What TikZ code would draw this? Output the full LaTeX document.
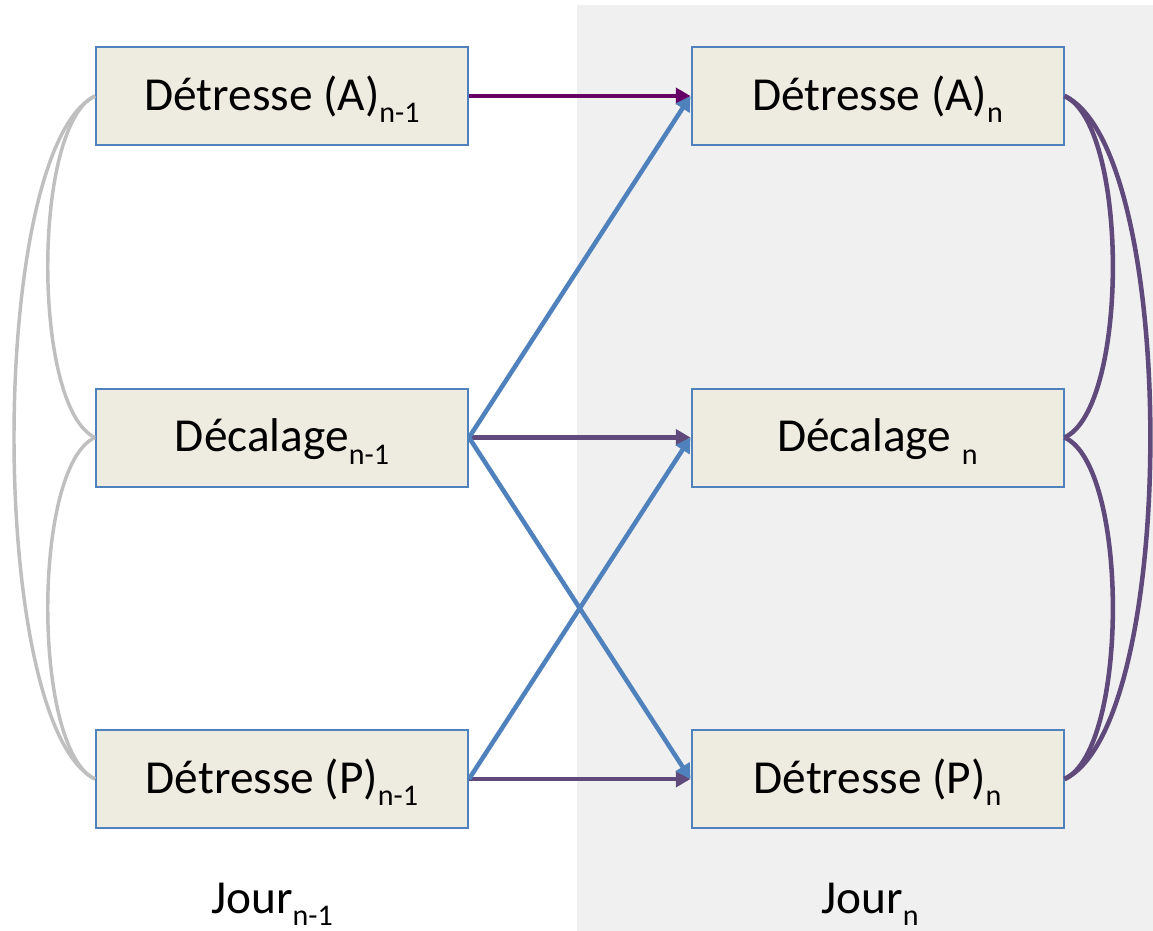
\documentclass[tikz,border=0pt]{standalone}
\usepackage{fontspec}
\setmainfont{Carlito}
\usetikzlibrary{arrows.meta}

\definecolor{boxfill}{RGB}{238,236,225}
\definecolor{boxline}{RGB}{79,129,189}
\definecolor{daybg}{RGB}{240,240,240}
\definecolor{linkgray}{RGB}{191,191,191}
\definecolor{linkplum}{RGB}{96,74,123}
\definecolor{linkmag}{RGB}{102,0,102}

\newcommand\lowsub[1]{\raisebox{-9.5pt}{\fontsize{22.5}{22.5}\selectfont #1}}

\begin{document}
\begin{tikzpicture}[x=0.75pt,y=0.75pt,yscale=-1,xscale=1,
		varbox/.style={draw=boxline,line width=1.5pt,fill=boxfill,minimum width=279pt,minimum height=73.5pt,inner sep=0pt,text height=21pt,text depth=0pt,font=\fontsize{35.5}{42}\selectfont},
		daylabel/.style={anchor=base,inner sep=0pt,font=\fontsize{35.5}{42}\selectfont},
		link/.style={line width=3.4pt,-{Triangle[length=11pt,width=12pt]}},
		corr/.style={line width=#1}]
			\useasboundingbox (0,0) rectangle (1153,931);

			%Shape: Rectangle (background of day n)
			\fill [daybg] (577,5) rectangle (1153,931);

			%Boxes: day n-1
			\node [varbox] (A1) at (282,96) {Détresse (A)\lowsub{n-1}};
			\node [varbox] (D1) at (282,437.5) {Décalage\lowsub{n-1}};
			\node [varbox] (P1) at (282,779) {Détresse (P)\lowsub{n-1}};
			%Boxes: day n
			\node [varbox] (A2) at (877.5,96) {Détresse (A)\lowsub{n}};
			\node [varbox] (D2) at (877.5,437.5) {Décalage \lowsub{n}};
			\node [varbox] (P2) at (877.5,779) {Détresse (P)\lowsub{n}};

			%Text: days
			\node [daylabel] (J1) at (272,913) {Jour\lowsub{n-1}};
			\node [daylabel] (J2) at (870,913) {Jour\lowsub{n}};

			%Curve Lines: left
			\draw [linkgray,corr=2.6pt] (A1.west) .. controls (32,125) and (32,408) .. (D1.west);
			\draw [linkgray,corr=2.6pt] (D1.west) .. controls (32,466) and (32,750) .. (P1.west);
			\draw [linkgray,corr=2.6pt] (A1.west) .. controls (-13,150) and (-13,725) .. (P1.west);
			%Curve Lines: right
			\draw [linkplum,corr=3.4pt] (A2.east) .. controls (1129,125) and (1129,408) .. (D2.east);
			\draw [linkplum,corr=3.4pt] (D2.east) .. controls (1129,466) and (1129,750) .. (P2.east);
			\draw [linkplum,corr=3.4pt] (A2.east) .. controls (1179,150) and (1179,725) .. (P2.east);

			%Straight Lines
			\draw [link,linkmag] (A1.east) -- (A2.west);
			\draw [link,linkplum] (D1.east) -- (D2.west);
			\draw [link,linkplum] (P1.east) -- (P2.west);
			\draw [link,boxline] (D1.east) -- (A2.west);
			\draw [link,boxline] (D1.east) -- (P2.west);
			\draw [link,boxline] (P1.east) -- (D2.west);
		\end{tikzpicture}
\end{document}
